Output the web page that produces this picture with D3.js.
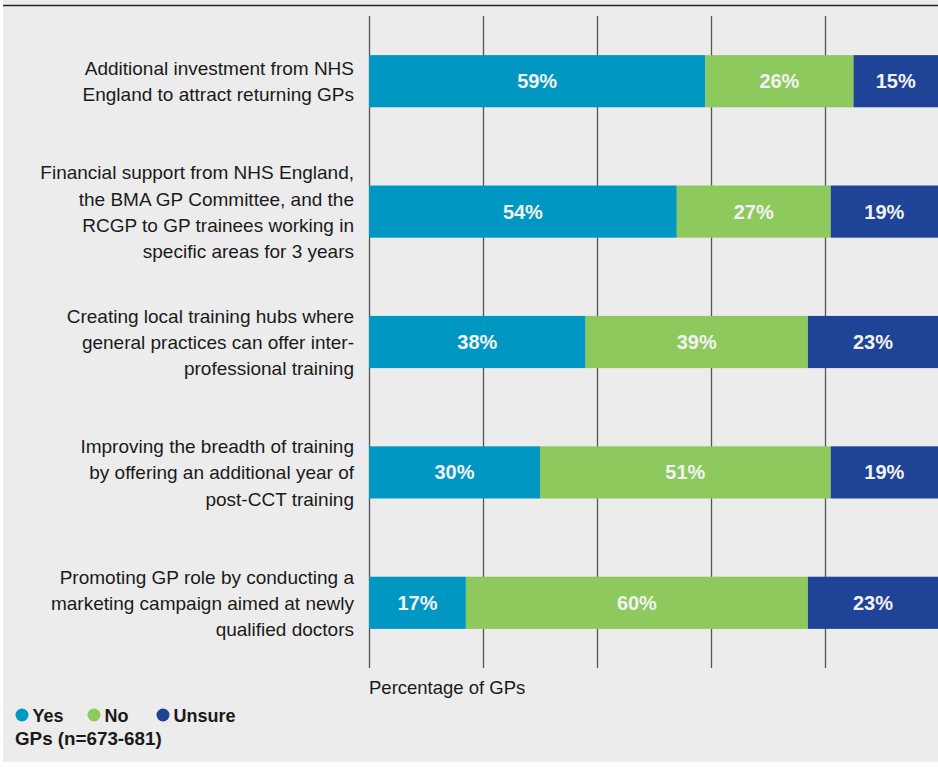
<!DOCTYPE html>
<html>
<head>
<meta charset="utf-8">
<script src="https://cdn.jsdelivr.net/npm/d3@7"></script>
<style>
  body { margin: 0; background: #ffffff; }
  svg { display: block; font-family: "Liberation Sans", Arial, sans-serif; }
</style>
</head>
<body>
<svg id="chart" width="938" height="767"></svg>
<script>
// Survey answers: support for measures to recruit and retain GPs
const categories = [
  ["Additional investment from NHS", "England to attract returning GPs"],
  ["Financial support from NHS England,", "the BMA GP Committee, and the", "RCGP to GP trainees working in", "specific areas for 3 years"],
  ["Creating local training hubs where", "general practices can offer inter-", "professional training"],
  ["Improving the breadth of training", "by offering an additional year of", "post-CCT training"],
  ["Promoting GP role by conducting a", "marketing campaign aimed at newly", "qualified doctors"]
];
const seriesNames = ["Yes", "No", "Unsure"];
const yesValues = [59, 54, 38, 30, 17];
const noValues = [26, 27, 39, 51, 60];
const unsureValues = [15, 19, 23, 19, 23];
const gridTicks = [0, 20, 40, 60, 80, 100];
const axisTitle = "Percentage of GPs";
const sampleNote = "GPs (n=673-681)";

const colors = { Yes: "#0098c3", No: "#8dc95c", Unsure: "#1e4397" };

const rows = categories.map((c, i) => ({
  index: i,
  Yes: yesValues[i],
  No: noValues[i],
  Unsure: unsureValues[i]
}));

const svg = d3.select("#chart");

// panel background and top rule
svg.append("rect")
  .attr("x", 3).attr("y", 0)
  .attr("width", 935).attr("height", 762)
  .attr("fill", "#ececec");
svg.append("line")
  .attr("x1", 3).attr("x2", 938)
  .attr("y1", 5.5).attr("y2", 5.5)
  .attr("stroke", "#222").attr("stroke-width", 1.6);

const x = d3.scaleLinear().domain([0, 100]).range([369, 939]);
const y = d3.scaleBand()
  .domain(d3.range(categories.length))
  .range([16, 668])
  .paddingInner(0.6)
  .paddingOuter(0.3);

// vertical grid lines
svg.append("g")
  .selectAll("line")
  .data(gridTicks)
  .join("line")
  .attr("x1", d => Math.round(x(d)) + 0.5)
  .attr("x2", d => Math.round(x(d)) + 0.5)
  .attr("y1", 16).attr("y2", 668)
  .attr("stroke", "#555")
  .attr("stroke-width", 1.3);

// stacked bars
const stacked = d3.stack().keys(seriesNames)(rows);

const layers = svg.append("g")
  .selectAll("g")
  .data(stacked)
  .join("g")
  .attr("fill", d => colors[d.key]);

layers.selectAll("rect")
  .data(d => d)
  .join("rect")
  .attr("x", d => x(d[0]))
  .attr("y", d => y(d.data.index))
  .attr("width", d => x(d[1]) - x(d[0]))
  .attr("height", y.bandwidth());

// value labels inside each segment
layers.selectAll("text")
  .data(d => d)
  .join("text")
  .attr("x", d => (x(d[0]) + Math.min(x(d[1]), 938)) / 2)
  .attr("y", d => y(d.data.index) + y.bandwidth() / 2)
  .attr("text-anchor", "middle")
  .attr("dominant-baseline", "central")
  .attr("fill", "#f2f2f2")
  .attr("font-size", 20)
  .attr("font-weight", "bold")
  .text(d => (d[1] - d[0]) + "%");

// category labels
const lineHeight = 26.2;
const catLabels = svg.append("g")
  .selectAll("text")
  .data(categories)
  .join("text")
  .attr("text-anchor", "end")
  .attr("fill", "#1a1a1a")
  .attr("font-size", 19);

catLabels.each(function (lines, i) {
  const cy = y(i) + y.bandwidth() / 2;
  const first = cy - (lines.length - 1) / 2 * lineHeight + 7;
  d3.select(this).selectAll("tspan")
    .data(lines)
    .join("tspan")
    .attr("x", 354)
    .attr("y", (l, j) => first + j * lineHeight)
    .text(l => l);
});

// axis title
svg.append("text")
  .attr("x", 369).attr("y", 694)
  .attr("fill", "#1a1a1a")
  .attr("font-size", 18.5)
  .text(axisTitle);

// legend
const legendX = [22, 94, 163];
const legend = svg.append("g")
  .selectAll("g")
  .data(seriesNames)
  .join("g")
  .attr("transform", (d, i) => `translate(${legendX[i]},715)`);
legend.append("circle")
  .attr("r", 6.5)
  .attr("fill", d => colors[d]);
legend.append("text")
  .attr("x", 10.5).attr("y", 6.5)
  .attr("font-size", 18)
  .attr("font-weight", "bold")
  .attr("fill", "#1a1a1a")
  .text(d => d);

svg.append("text")
  .attr("x", 15).attr("y", 745)
  .attr("font-size", 18.8)
  .attr("font-weight", "bold")
  .attr("fill", "#1a1a1a")
  .text(sampleNote);
</script>
</body>
</html>
